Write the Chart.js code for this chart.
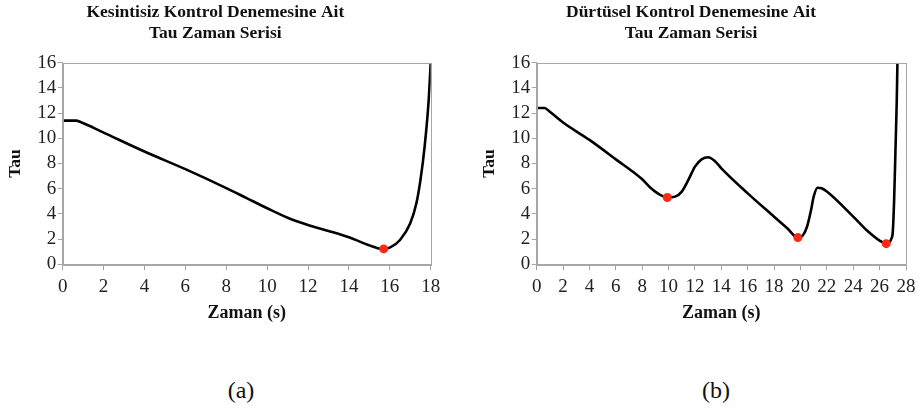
<!DOCTYPE html>
<html>
<head>
<meta charset="utf-8">
<script src="https://cdn.jsdelivr.net/npm/chart.js@4/dist/chart.umd.min.js"></script>
<style>
  html, body { margin: 0; padding: 0; background: #fff; overflow: hidden; }
  body { width: 919px; height: 409px; position: relative; }
  canvas { position: absolute; top: 0; }
  .cap { position: absolute; top: 375px; line-height: 30px; font-family: "Liberation Serif", "Times New Roman", serif; font-size: 24px; color: #111; transform: translateX(-50%); }
</style>
</head>
<body>
<canvas id="grafA" width="476" height="330" style="left:0px"></canvas>
<canvas id="grafB" width="480" height="330" style="left:476px"></canvas>
<div class="cap" style="left:241px">(a)</div>
<div class="cap" style="left:716px">(b)</div>
<script>
// (a) kesintisiz kontrol
const zamanA = [0, 0.65, 0.9, 2, 4, 6, 8, 9, 10, 11, 12, 13, 14, 15, 15.4, 15.7, 16, 16.5, 17, 17.3, 17.5, 17.7, 17.9, 18];
const tauA   = [11.4, 11.4, 11.27, 10.45, 8.95, 7.55, 6.05, 5.25, 4.45, 3.7, 3.12, 2.65, 2.14, 1.5, 1.28, 1.22, 1.32, 1.93, 3.25, 4.84, 6.7, 9.3, 13, 16];
const minZamanA = [15.7];
const minTauA   = [1.22];

// (b) durtusel kontrol
const zamanB = [0, 0.6, 1, 2, 4, 6, 8, 8.6, 9.3, 9.9, 10.5, 11, 11.5, 12, 12.5, 13, 13.5, 14, 16, 18, 19, 19.8, 20.2, 20.5, 20.8, 21, 21.3, 21.6, 22, 24, 25, 26, 26.5, 26.9, 27, 27.1, 27.2, 27.3, 27.35];
const tauB   = [12.4, 12.4, 12.1, 11.25, 9.87, 8.33, 6.75, 6.1, 5.55, 5.3, 5.37, 5.77, 6.7, 7.75, 8.33, 8.5, 8.2, 7.62, 5.63, 3.78, 2.86, 2.12, 2.33, 3.0, 4.3, 5.37, 6.08, 6.03, 5.77, 3.78, 2.72, 1.88, 1.64, 2.06, 2.6, 5.1, 9, 13, 16];
const minZamanB = [9.9, 19.8, 26.5];
const minTauB   = [5.3, 2.12, 1.64];

const yTicks = [0, 2, 4, 6, 8, 10, 12, 14, 16];

const serif = "'Liberation Serif', 'Times New Roman', serif";
const gri = '#a6a6a6';

// grafik alanının etrafına çerçeve
const cerceve = {
  id: 'cerceve',
  afterDatasetsDraw(chart) {
    const a = chart.chartArea;
    const ctx = chart.ctx;
    ctx.save();
    ctx.strokeStyle = gri;
    ctx.lineWidth = 1;
    ctx.strokeRect(Math.round(a.left) + 0.5, Math.round(a.top) + 0.5, Math.round(a.right - a.left), Math.round(a.bottom - a.top));
    ctx.restore();
  }
};

function noktalar(xs, ys) {
  return xs.map((x, i) => ({ x: x, y: ys[i] }));
}

function grafikCiz(id, baslik, xs, ys, mx, my, xMax, yGenislik, tauPad, sagPad) {
  const ctx = document.getElementById(id).getContext('2d');
  new Chart(ctx, {
    type: 'line',
    data: {
      datasets: [
        {
          data: noktalar(mx, my),
          type: 'scatter',
          pointRadius: 4.5,
          pointBackgroundColor: '#ff2a12',
          pointBorderWidth: 0,
          order: 0
        },
        {
          data: noktalar(xs, ys),
          borderColor: '#000',
          borderWidth: 2.6,
          pointRadius: 0,
          cubicInterpolationMode: 'monotone',
          fill: false,
          order: 1
        }
      ]
    },
    options: {
      responsive: false,
      animation: false,
      layout: { padding: { left: 0, right: sagPad, top: 0, bottom: 0 } },
      plugins: {
        legend: { display: false },
        tooltip: { enabled: false },
        title: {
          display: true,
          text: baslik,
          color: '#111',
          font: { family: serif, size: 17.5, weight: 'bold', lineHeight: 1.177 },
          padding: { top: 2.4, bottom: 19.1 }
        }
      },
      scales: {
        x: {
          type: 'linear',
          min: 0,
          max: xMax,
          afterFit: (s) => { s.height = 330 - 264.3; },
          ticks: { stepSize: 2, autoSkip: false, color: '#222', padding: 5.5, maxRotation: 0, font: { family: serif, size: 19 } },
          grid: { drawOnChartArea: false, drawTicks: true, tickLength: 6, color: gri },
          border: { color: gri },
          title: {
            display: true,
            text: 'Zaman (s)',
            color: '#111',
            font: { family: serif, size: 18, weight: 'bold', lineHeight: 1.2 },
            padding: { top: 0, bottom: 5.9 }
          }
        },
        y: {
          min: 0,
          max: 16,
          afterFit: (s) => { s.width = yGenislik; },
          afterBuildTicks: (s) => { s.ticks = yTicks.map(v => ({ value: v })); },
          ticks: { autoSkip: false, color: '#222', padding: 1.5, font: { family: serif, size: 19 } },
          grid: { drawOnChartArea: false, drawTicks: true, tickLength: 5, color: gri },
          border: { color: gri },
          title: {
            display: true,
            text: 'Tau',
            color: '#111',
            font: { family: serif, size: 17.5, weight: 'bold', lineHeight: 1.2 },
            padding: { top: tauPad, bottom: 0 }
          }
        }
      }
    },
    plugins: [cerceve]
  });
}

grafikCiz('grafA', ['Kesintisiz Kontrol Denemesine Ait', 'Tau Zaman Serisi'], zamanA, tauA, minZamanA, minTauA, 18, 62.7, 4.5, 45.3);
grafikCiz('grafB', ['Dürtüsel Kontrol Denemesine Ait', 'Tau Zaman Serisi'], zamanB, tauB, minZamanB, minTauB, 28, 60.7, 2.5, 50);
</script>
</body>
</html>
